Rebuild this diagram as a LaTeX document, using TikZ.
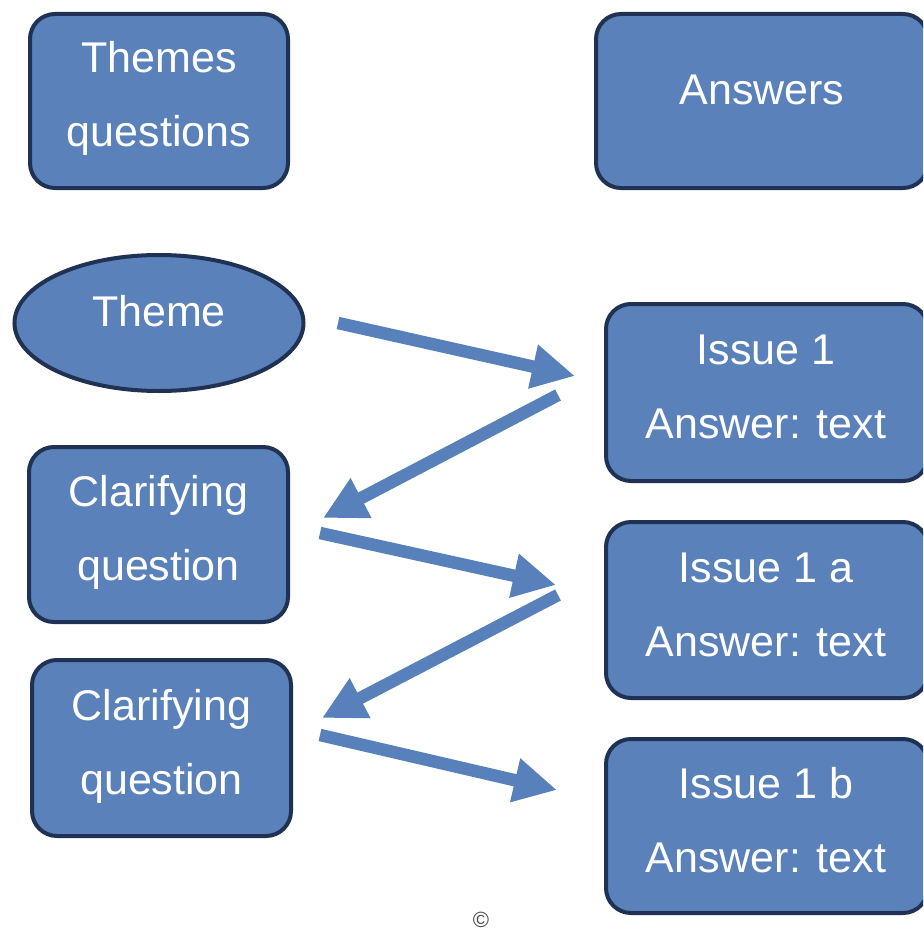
\documentclass[tikz,border=0pt]{standalone}
\usepackage{fontspec}
\setmainfont{Liberation Sans}
\usetikzlibrary{arrows.meta,shapes.geometric}

\definecolor{boxfill}{HTML}{5A81B9}
\definecolor{boxline}{HTML}{1F3253}
\definecolor{arrowblue}{HTML}{5880BA}

\tikzset{
  card/.style={draw=boxline, fill=boxfill, line width=4pt, rounded corners=25pt,
    rectangle, inner sep=0pt},
  oval/.style={draw=boxline, fill=boxfill, line width=4pt, ellipse, inner sep=0pt},
  cardtext/.style={text=white, align=center, inner sep=0pt,
    font=\fontsize{43}{74}\selectfont},
  bigarrow/.style={draw=arrowblue, line width=12.5pt,
    -{Triangle[length=43pt,width=42pt]}},
}

\begin{document}
\begin{tikzpicture}[x=1pt,y=-1pt]
  \useasboundingbox (0,0) rectangle (923,931);
  \clip (0,0) rectangle (923,931);

  % left column
  \node[card, minimum width=258pt, minimum height=174pt] (themesq) at (159,101) {};
  \node[cardtext] (themesqtext) at ([yshift=3pt]themesq.center) {Themes\\questions};

  \node[oval, minimum width=289pt, minimum height=136pt] (theme) at (159,323) {};
  \node[cardtext] (themetext) at ([yshift=12pt]theme.center) {Theme};

  \node[card, minimum width=259pt, minimum height=175pt] (clar1) at (158.5,534.5) {};
  \node[cardtext] (clar1text) at ([yshift=2pt]clar1.center) {Clarifying\\question};

  \node[card, minimum width=259pt, minimum height=176pt] (clar2) at (161.5,748) {};
  \node[cardtext] (clar2text) at ([yshift=2pt]clar2.center) {Clarifying\\question};

  % right column, running off the right edge
  \node[card, minimum width=332pt, minimum height=174pt] (answers) at (762,101) {};
  \node[cardtext] (answerstext) at ([yshift=11pt]answers.center) {Answers};

  \node[card, minimum width=322pt, minimum height=177pt] (issue1) at (767,392.5) {};
  \node[cardtext] (issue1text) at ([xshift=-1pt,yshift=6pt]issue1.center) {Issue 1\\Answer: text};

  \node[card, minimum width=322pt, minimum height=176pt] (issue1a) at (767,610) {};
  \node[cardtext] (issue1atext) at ([xshift=-1pt,yshift=5pt]issue1a.center) {Issue 1 a\\Answer: text};

  \node[card, minimum width=322pt, minimum height=174pt] (issue1b) at (767,826) {};
  \node[cardtext] (issue1btext) at ([xshift=-1pt,yshift=6pt]issue1b.center) {Issue 1 b\\Answer: text};

  % arrow end points between the columns
  \coordinate (a1s) at (338,323);  \coordinate (a1e) at (575,376);
  \coordinate (a2s) at (558,395);  \coordinate (a2e) at (323,518);
  \coordinate (a3s) at (320,533);  \coordinate (a3e) at (556,585);
  \coordinate (a4s) at (558,595);  \coordinate (a4e) at (322,718);
  \coordinate (a5s) at (320,735);  \coordinate (a5e) at (557,790);

  \draw[bigarrow] (a1s) -- (a1e);
  \draw[bigarrow] (a2s) -- (a2e);
  \draw[bigarrow] (a3s) -- (a3e);
  \draw[bigarrow] (a4s) -- (a4e);
  \draw[bigarrow] (a5s) -- (a5e);

  \node[text=black!70, inner sep=0pt, font=\fontsize{22}{22}\selectfont] (copy) at (481,920) {\textcopyright};
\end{tikzpicture}
\end{document}
